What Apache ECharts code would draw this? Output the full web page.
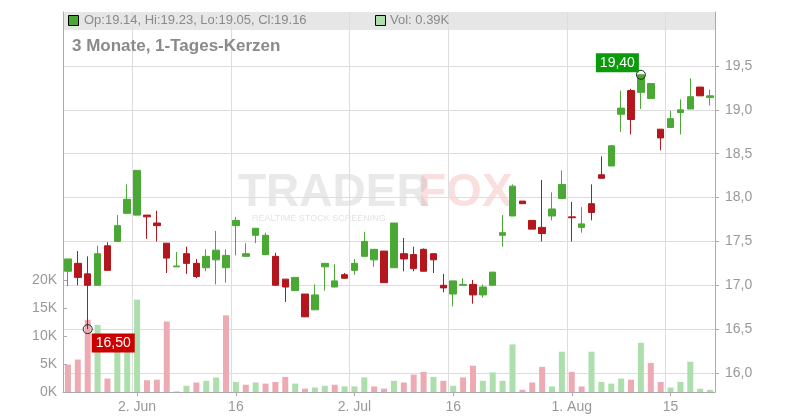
<!DOCTYPE html>
<html><head><meta charset="utf-8">
<script src="https://cdn.jsdelivr.net/npm/echarts@6/dist/echarts.min.js"></script>
<style>html,body{margin:0;padding:0;background:#fff}#c{width:800px;height:420px}</style>
</head><body><div id="c"></div>
<script>
const dates = ['21.5','22.5','23.5','26.5','27.5','28.5','29.5','2.6','3.6','4.6','5.6','6.6','9.6','10.6','11.6','12.6','13.6','16.6','17.6','18.6','19.6','20.6','23.6','24.6','25.6','26.6','27.6','30.6','1.7','2.7','3.7','4.7','7.7','8.7','9.7','10.7','11.7','14.7','15.7','16.7','17.7','18.7','21.7','22.7','23.7','24.7','25.7','28.7','29.7','30.7','31.7','1.8','4.8','5.8','6.8','7.8','8.8','11.8','12.8','13.8','14.8','15.8','18.8','19.8','20.8','21.8'];
const opens  = [17.16,17.25,17.13,17.00,17.45,17.50,17.82,17.80,17.80,17.71,17.48,17.21,17.36,17.25,17.20,17.29,17.20,17.68,17.33,17.57,17.35,17.33,17.07,16.94,16.90,16.72,17.21,16.98,17.12,17.17,17.33,17.29,17.39,17.20,17.36,17.35,17.41,17.36,17.00,16.90,17.00,17.01,16.89,17.00,17.57,17.79,17.96,17.74,17.66,17.79,17.99,17.78,17.66,17.93,18.26,18.36,18.95,19.22,19.20,19.13,18.78,18.80,18.97,19.01,19.26,19.14];
const closes = [17.30,17.09,17.00,17.36,17.17,17.68,17.98,18.31,17.78,17.68,17.31,17.22,17.25,17.10,17.33,17.40,17.34,17.74,17.36,17.65,17.57,17.00,16.98,17.09,16.64,16.89,17.25,17.05,17.08,17.25,17.50,17.41,17.03,17.71,17.30,17.19,17.16,17.29,16.97,17.05,17.01,16.89,16.98,17.15,17.60,18.13,17.93,17.64,17.59,17.87,18.15,17.77,17.70,17.83,18.22,18.59,19.02,18.89,19.40,19.30,18.68,18.90,19.00,19.15,19.16,19.16];
const highs  = [17.30,17.39,17.33,17.45,17.49,17.80,18.15,18.31,17.80,17.85,17.48,17.38,17.44,17.30,17.41,17.62,17.41,17.78,17.48,17.65,17.60,17.37,17.07,17.09,16.90,17.01,17.25,17.24,17.14,17.30,17.61,17.41,17.39,17.71,17.54,17.44,17.42,17.36,17.13,17.05,17.08,17.06,17.01,17.15,17.80,18.15,17.96,17.74,18.20,18.06,18.31,17.95,17.89,18.15,18.47,18.60,19.22,19.24,19.40,19.30,18.78,18.99,19.12,19.36,19.26,19.23];
const lows   = [16.99,17.00,16.50,17.00,17.17,17.50,17.82,17.80,17.53,17.50,17.14,17.21,17.13,17.08,17.16,17.01,17.03,17.34,17.33,17.48,17.35,17.00,16.81,16.94,16.64,16.72,16.94,16.98,17.08,17.12,17.33,17.21,17.03,17.20,17.16,17.16,17.16,17.14,16.92,16.76,17.00,16.79,16.86,17.00,17.44,17.79,17.93,17.64,17.50,17.74,17.99,17.50,17.60,17.74,18.22,18.36,18.75,18.72,19.01,19.13,18.54,18.80,18.72,19.01,19.16,19.05];
const volumes = [4.9,5.8,12.9,12.0,2.4,9.5,9.0,16.5,2.1,2.2,12.6,0.1,1.1,1.7,2.0,2.6,13.7,1.8,1.3,1.7,1.5,1.8,2.7,1.5,0.6,0.8,1.1,1.3,1.0,1.0,2.6,1.0,0.6,2.0,1.7,3.1,3.6,2.7,2.0,1.1,2.6,4.7,2.0,3.5,2.0,8.5,0.4,1.7,4.5,1.0,7.2,3.6,1.0,7.2,1.8,1.5,2.4,2.2,8.8,5.2,1.8,0.8,1.8,5.4,0.6,0.39];
const xLabels = {7:'2. Jun',17:'16',29:'2. Jul',39:'16',51:'1. Aug',61:'15'};
const priceTicks = [16.0,16.5,17.0,17.5,18.0,18.5,19.0,19.5];
const volTicks = [0,5,10,15,20];
const hiIdx = 58, loIdx = 2;

const UP='#49a934', DN='#b3161c', VUP='#addfac', VDN='#eeaab2';
const candle = dates.map((d,i)=>[opens[i],closes[i],lows[i],highs[i]]);
const vol = volumes.map((v,i)=>({value:v,itemStyle:{color:(i>0 && closes[i]>=closes[i-1])?VUP:VDN}}));
const labIdx = Object.keys(xLabels).map(Number);
const n = dates.length;
const last = n-1;
const fmt = v=>v.toFixed(2).replace('.',',');

const chart = echarts.init(document.getElementById('c'));
chart.setOption({
  animation:false,
  textStyle:{fontFamily:'Liberation Sans, Arial, sans-serif'},
  graphic:[
    {type:'rect',z:-10,shape:{x:63,y:12,width:652,height:18},style:{fill:'#e6e6e6'}},
    {type:'rect',z:10,shape:{x:68.5,y:15.5,width:10,height:10},style:{fill:UP,stroke:'#000',lineWidth:1}},
    {type:'text',z:10,x:84,y:14,style:{text:'Op:'+opens[last]+', Hi:'+highs[last]+', Lo:'+lows[last]+', Cl:'+closes[last],fill:'#8a8a8a',font:'13px Liberation Sans'}},
    {type:'rect',z:10,shape:{x:375.5,y:15.5,width:10,height:10},style:{fill:VUP,stroke:'#000',lineWidth:1}},
    {type:'text',z:10,x:390,y:14,style:{text:'Vol: '+volumes[last]+'K',fill:'#8a8a8a',font:'13px Liberation Sans'}},
    {type:'text',z:10,x:72,y:38,style:{text:'3 Monate, 1-Tages-Kerzen',fill:'#8a8a8a',font:'bold 17px Liberation Sans'}},
    {type:'text',z:-5,x:238,y:170,style:{text:'TRADER',fill:'rgba(200,200,200,0.4)',font:'bold 46px Liberation Sans'}},
    {type:'text',z:-5,x:418,y:170,style:{text:'FOX',fill:'rgba(240,150,150,0.3)',font:'bold 46px Liberation Sans'}},
    {type:'text',z:-5,x:252,y:214,style:{text:'REALTIME STOCK SCREENING',fill:'rgba(200,200,200,0.5)',font:'9px Liberation Sans'}}
  ],
  grid:[{left:63,right:85,top:12,bottom:28}],
  xAxis:[{type:'category',data:dates,boundaryGap:true,
    axisLine:{lineStyle:{color:'#aaa'}},axisTick:{show:true,interval:(i)=>labIdx.includes(i),lineStyle:{color:'#aaa'},alignWithLabel:true,length:4},
    axisLabel:{interval:(i)=>labIdx.includes(i),formatter:(v,i)=>xLabels[i]||'',color:'#999',fontSize:14,margin:8},
    splitLine:{show:true,interval:(i)=>labIdx.includes(i),lineStyle:{color:'#ddd'}}}],
  yAxis:[
    {type:'value',position:'right',min:15.783,max:20.116,
     axisLine:{show:true,lineStyle:{color:'#aaa'}},
     axisTick:{show:true,customValues:priceTicks,lineStyle:{color:'#aaa'},length:4},
     axisLabel:{customValues:priceTicks,formatter:v=>v.toFixed(1).replace('.',','),color:'#999',fontSize:14,margin:10},
     splitLine:{show:true,lineStyle:{color:'#ddd'}}},
    {type:'value',position:'left',min:0,max:67.9,
     axisLine:{show:true,lineStyle:{color:'#aaa'}},
     axisTick:{show:true,customValues:volTicks,inside:true,lineStyle:{color:'#aaa'},length:4},
     axisLabel:{customValues:volTicks,formatter:v=>v+'K',color:'#999',fontSize:14,margin:6},
     splitLine:{show:false}}
  ],
  series:[
    {type:'bar',yAxisIndex:1,data:vol,barWidth:6,z:1},
    {type:'candlestick',yAxisIndex:0,data:candle,barWidth:7,z:3,
     itemStyle:{color:UP,color0:DN,borderColor:UP,borderColor0:DN,borderWidth:1},
     markPoint:{symbol:'circle',symbolSize:9,silent:true,
       itemStyle:{color:'rgba(255,255,255,0)',borderColor:'#222',borderWidth:1},
       data:[
         {coord:[hiIdx,highs[hiIdx]],label:{show:true,formatter:fmt(highs[hiIdx]),position:'left',offset:[8,-12],color:'#fff',backgroundColor:'#0a9a0a',padding:[3,4,2,4],fontSize:14}},
         {coord:[loIdx,lows[loIdx]],label:{show:true,formatter:fmt(lows[loIdx]),position:'right',offset:[-6,14],color:'#fff',backgroundColor:'#cc0000',padding:[3,4,2,4],fontSize:14}}
       ]}}
  ]
});
</script></body></html>
